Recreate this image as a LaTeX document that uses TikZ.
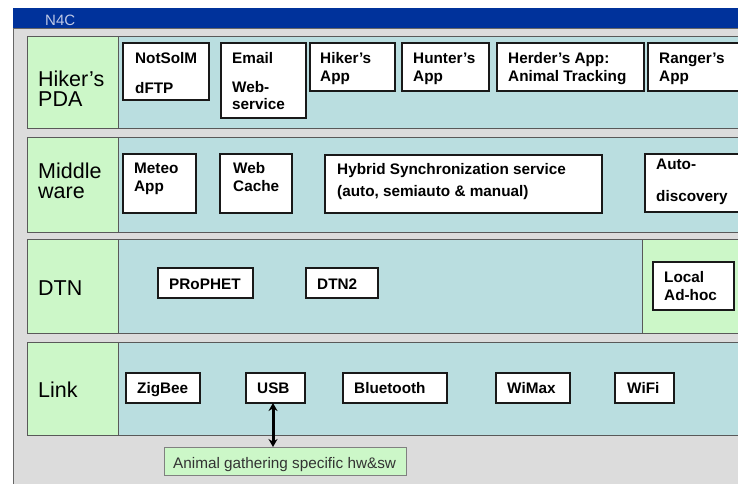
\documentclass[tikz,border=0pt]{standalone}
\usepackage{fontspec}
\setmainfont{Liberation Sans}
\usetikzlibrary{arrows.meta}
\definecolor{teal1}{RGB}{186,222,224}
\definecolor{green1}{RGB}{204,247,200}
\definecolor{gray1}{RGB}{220,220,220}
\definecolor{barblue}{RGB}{0,50,155}
\definecolor{ntext}{RGB}{190,200,230}
\newcommand\bx[5]{\node[box,anchor=north west,minimum width=#4pt,minimum height=#5pt] (#1) at (#2,#3) {};}
\begin{document}
\begin{tikzpicture}[x=1pt,y=-1pt,
 box/.style={draw=black!90,line width=1.5pt,fill=white,inner sep=0pt,outer sep=0pt},
 btxt/.style={font=\fontsize{15.3}{17}\selectfont\bfseries,anchor=base west,inner sep=0pt},
 ltxt/.style={font=\fontsize{21.5}{21.5}\selectfont,anchor=base west,inner sep=0pt},
 band/.style={draw=black!65,line width=0.8pt,fill=teal1},
 lab/.style={draw=black!65,line width=0.8pt,fill=green1},
 conn/.style={line width=3pt,draw=black,{Stealth[length=8pt,width=9pt]}-{Stealth[length=8pt,width=9pt]}},
]
\useasboundingbox (0,0) rectangle (738,483);
\fill[white] (0,0) rectangle (738,483);
\draw[draw=black!60,line width=0.8pt,fill=gray1] (13,28) rectangle (760,500);
\fill[barblue] (13,8) rectangle (760,28);
\node[anchor=base west,text=ntext,font=\fontsize{15}{15}\selectfont,inner sep=0pt] (title) at (45,25) {N4C};

% bands
\draw[band] (27,36) rectangle (760,128);
\draw[band] (27,137) rectangle (760,232);
\draw[band] (27,239) rectangle (760,333);
\draw[band] (27,342) rectangle (760,435);
\draw[lab] (27,36) rectangle (118,128);
\draw[lab] (27,137) rectangle (118,232);
\draw[lab] (27,239) rectangle (118,333);
\draw[lab] (27,342) rectangle (118,435);
\draw[lab] (642,239) rectangle (760,333);

% labels
\node[ltxt] (l1a) at (38,86) {Hiker's};
\node[ltxt] (l1b) at (38,106) {PDA};
\node[ltxt] (l2a) at (38,178) {Middle};
\node[ltxt] (l2b) at (38,198) {ware};
\node[ltxt] (l3) at (38,295) {DTN};
\node[ltxt] (l4) at (38,397) {Link};

% row 1
\bx{nots}{123}{43}{86}{57}
\bx{email}{221}{43}{85}{75}
\bx{hiker}{310}{43}{85}{48}
\bx{hunter}{402}{43}{87}{48}
\bx{herder}{497}{43}{147}{48}
\bx{ranger}{648}{43}{100}{48}
\node[btxt] (t1) at (135,63) {NotSolM};
\node[btxt] (t2) at (135,93) {dFTP};
\node[btxt] (t3) at (232,63) {Email};
\node[btxt] (t4) at (232,92) {Web-};
\node[btxt] (t5) at (232,109) {service};
\node[btxt] (t6) at (320,63) {Hiker's};
\node[btxt] (t7) at (320,81) {App};
\node[btxt] (t8) at (413,63) {Hunter's};
\node[btxt] (t9) at (413,81) {App};
\node[btxt] (t10) at (508,63) {Herder's App:};
\node[btxt] (t11) at (508,81) {Animal Tracking};
\node[btxt] (t12) at (659,63) {Ranger's};
\node[btxt] (t13) at (659,81) {App};

% row 2
\bx{meteo}{123}{154}{73}{59}
\bx{webc}{220}{154}{72}{59}
\bx{hybrid}{325}{155}{277}{58}
\bx{auto}{645}{154}{100}{58}
\node[btxt] (u1) at (134,173) {Meteo};
\node[btxt] (u2) at (134,191) {App};
\node[btxt] (u3) at (233,173) {Web};
\node[btxt] (u4) at (233,191) {Cache};
\node[btxt] (u5) at (337,174) {Hybrid Synchronization service};
\node[btxt] (u6) at (337,196) {(auto, semiauto \& manual)};
\node[btxt] (u7) at (656,169) {Auto-};
\node[btxt] (u8) at (656,201) {discovery};

% row 3
\bx{prophet}{158}{268}{95}{30}
\bx{dtntwo}{306}{268}{72}{30}
\bx{local}{653}{262}{81}{48}
\node[btxt] (v1) at (169,289) {PRoPHET};
\node[btxt] (v2) at (317,289) {DTN2};
\node[btxt] (v3) at (664,282) {Local};
\node[btxt] (v4) at (664,300) {Ad-hoc};

% row 4
\bx{zigbee}{126}{373}{74}{30}
\bx{usb}{246}{373}{59}{30}
\bx{bt}{343}{373}{104}{30}
\bx{wimax}{496}{373}{74}{30}
\bx{wifi}{615}{373}{59}{30}
\node[btxt] (w1) at (137,393) {ZigBee};
\node[btxt] (w2) at (257,393) {USB};
\node[btxt] (w3) at (354,393) {Bluetooth};
\node[btxt] (w4) at (507,393) {WiMax};
\node[btxt] (w5) at (627,393) {WiFi};

% animal box
\node[draw=black!50,line width=0.8pt,fill=green1,anchor=north west,minimum width=242pt,minimum height=28pt,inner sep=0pt,outer sep=0pt] (animal) at (164,447) {};
\node[anchor=base west,inner sep=0pt,text=black!80,font=\fontsize{15.3}{15}\selectfont] (animaltxt) at (173,468) {Animal gathering specific hw\&sw};
\coordinate (arrtop) at ([xshift=-2.5pt]usb.south);
\draw[conn] (arrtop) -- (arrtop |- animal.north);
\end{tikzpicture}
\end{document}
